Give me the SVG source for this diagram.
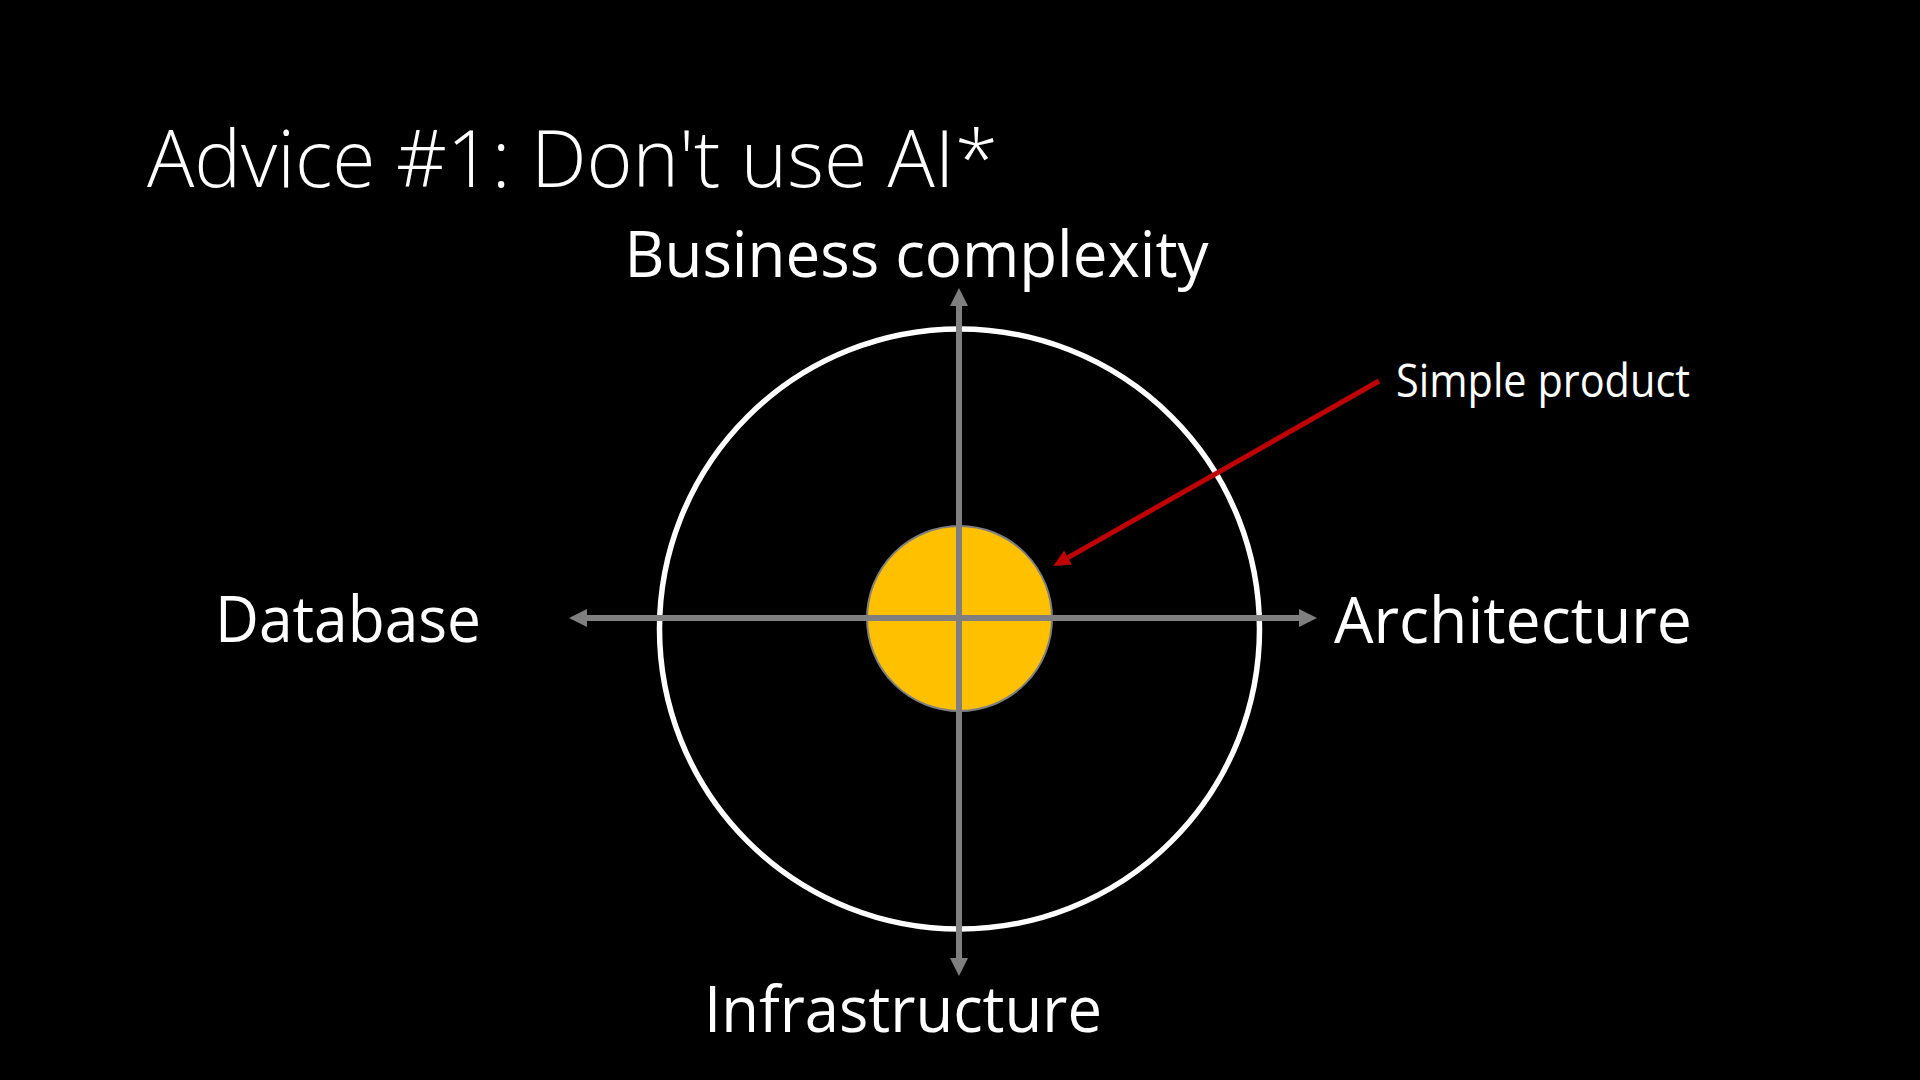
<svg xmlns="http://www.w3.org/2000/svg" width="1920" height="1080" viewBox="0 0 1920 1080">
<style>
  .lbl { font-family: "Open Sans", "Liberation Sans", sans-serif; fill: #ffffff; }
  .axis { stroke: #7f7f7f; stroke-width: 6; fill: none; }
  .ptr { stroke: #c00000; stroke-width: 5; fill: none; }
</style>
<defs>
  <marker id="grayHead" markerUnits="userSpaceOnUse" markerWidth="18" markerHeight="18" refX="0" refY="9" orient="auto-start-reverse" viewBox="0 0 18 18">
    <path d="M0,0 L18,9 L0,18 z" fill="#7f7f7f"/>
  </marker>
  <marker id="redHead" markerUnits="userSpaceOnUse" markerWidth="17" markerHeight="16" refX="0" refY="8" orient="auto" viewBox="0 0 17 16">
    <path d="M0,0 L17,8 L0,16 z" fill="#c00000"/>
  </marker>
</defs>
<rect x="0" y="0" width="1920" height="1080" fill="#000000"/>

<g id="title">
  <text class="lbl" x="147" y="187" font-size="80" font-weight="300" textLength="851" lengthAdjust="spacingAndGlyphs">Advice #1: Don't use AI*</text>
</g>

<g id="outer-circle">
  <circle cx="959.5" cy="629" r="300" fill="none" stroke="#ffffff" stroke-width="5.5"/>
</g>

<g id="simple-product-circle">
  <circle cx="959.5" cy="618.5" r="92.5" fill="#ffc000" stroke="#7f7f7f" stroke-width="2"/>
</g>

<g id="label-business">
  <text class="lbl" x="624.5" y="277" font-size="64" textLength="584" lengthAdjust="spacingAndGlyphs">Business complexity</text>
</g>
<g id="label-database">
  <text class="lbl" x="215" y="642" font-size="64" textLength="266" lengthAdjust="spacingAndGlyphs">Database</text>
</g>
<g id="label-architecture">
  <text class="lbl" x="1334" y="643" font-size="64" textLength="358" lengthAdjust="spacingAndGlyphs">Architecture</text>
</g>
<g id="label-infrastructure">
  <text class="lbl" x="704" y="1032" font-size="64" textLength="398" lengthAdjust="spacingAndGlyphs">Infrastructure</text>
</g>
<g id="label-simple-product">
  <text class="lbl" x="1396" y="397" font-size="46" textLength="294" lengthAdjust="spacingAndGlyphs">Simple product</text>
</g>

<g id="connectors">
  <line class="axis" x1="959" y1="306" x2="959" y2="958" marker-start="url(#grayHead)" marker-end="url(#grayHead)"/>
  <line class="axis" x1="587" y1="618" x2="1299" y2="618" marker-start="url(#grayHead)" marker-end="url(#grayHead)"/>
  <line class="ptr" x1="1379" y1="381" x2="1068" y2="557.6" marker-end="url(#redHead)"/>
</g>
</svg>
